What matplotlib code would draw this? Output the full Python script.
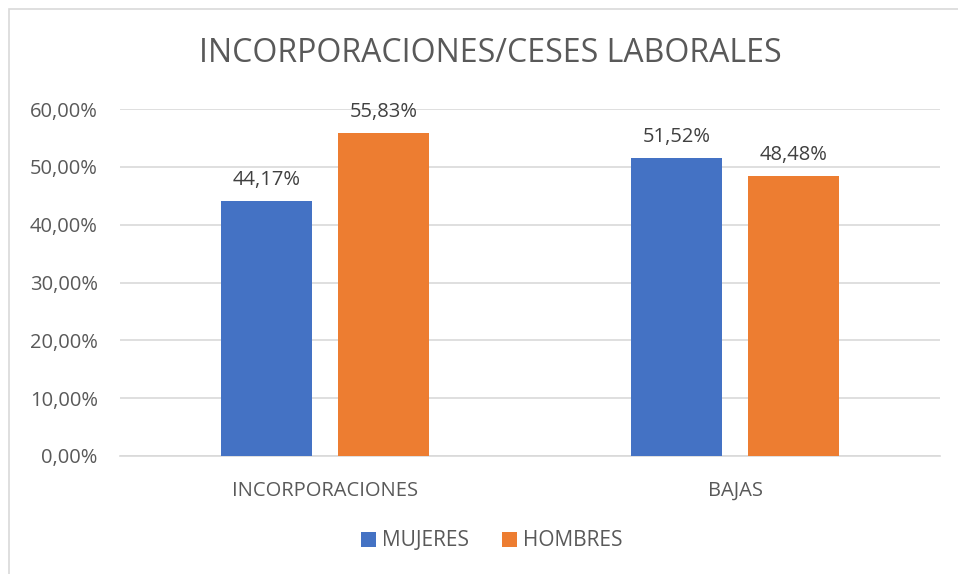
import matplotlib
matplotlib.use("Agg")
import matplotlib.pyplot as plt
from matplotlib.patches import Rectangle

categories = ["INCORPORACIONES", "BAJAS"]
series_names = ["MUJERES", "HOMBRES"]
mujeres = [44.17, 51.52]
hombres = [55.83, 48.48]
yticks = [0, 10, 20, 30, 40, 50, 60]
title = "INCORPORACIONES/CESES LABORALES"

colors = ["#4472C4", "#ED7D31"]
txt = "#595959"
plt.rcParams['font.family'] = ['Open Sans', 'DejaVu Sans']

fig = plt.figure(figsize=(9.58, 5.74), dpi=100)
fig.patches.append(Rectangle((9/958, -0.01), 1.0, 1 - 9/574 + 0.01, transform=fig.transFigure,
                             fill=False, edgecolor="#D9D9D9", linewidth=1.2))
ax = fig.add_axes([120/958, 1 - 456/574, 820/958, (456 - 109)/574])

w = 0.224
gap = 0.061
off = (w + gap) / 2
x = range(len(categories))
for vals, c, sgn, name in [(mujeres, colors[0], -1, series_names[0]), (hombres, colors[1], 1, series_names[1])]:
    pos = [i + sgn * off for i in x]
    ax.bar(pos, vals, width=w, color=c, label=name, zorder=3)
    for p, v in zip(pos, vals):
        ax.text(p, v + 1.9, f"{v:.2f}%".replace(".", ","), ha="center", va="bottom",
                fontsize=14.5, color="#404040")

ax.set_xlim(-0.5, 1.5)
ax.set_ylim(0, 60)
ax.set_yticks(yticks)
ax.set_yticklabels([f"{t:.2f}%".replace(".", ",") for t in yticks], fontsize=14.5, color=txt)
ax.set_xticks(list(x))
ax.set_xticklabels(categories, fontsize=14.5, color=txt)
ax.tick_params(axis="both", length=0)
ax.tick_params(axis="y", pad=16)
ax.tick_params(axis="x", pad=18)
ax.grid(axis="y", color="#D9D9D9", linewidth=1.2, zorder=0)
for s in ["top", "right", "left"]:
    ax.spines[s].set_visible(False)
ax.spines["bottom"].set_color("#D9D9D9")
ax.spines["bottom"].set_linewidth(1.2)

fig.text(490/958, 1 - 53/574, title, ha="center", va="center", fontsize=23, color=txt)
leg = fig.legend(loc="center", bbox_to_anchor=(492/958, 1 - 541/574), ncol=2, frameon=False,
                 fontsize=15, handlelength=0.7, handleheight=0.7, handletextpad=0.3, columnspacing=1.6)
for t in leg.get_texts():
    t.set_color(txt)

fig.savefig("out.png", dpi=100)
